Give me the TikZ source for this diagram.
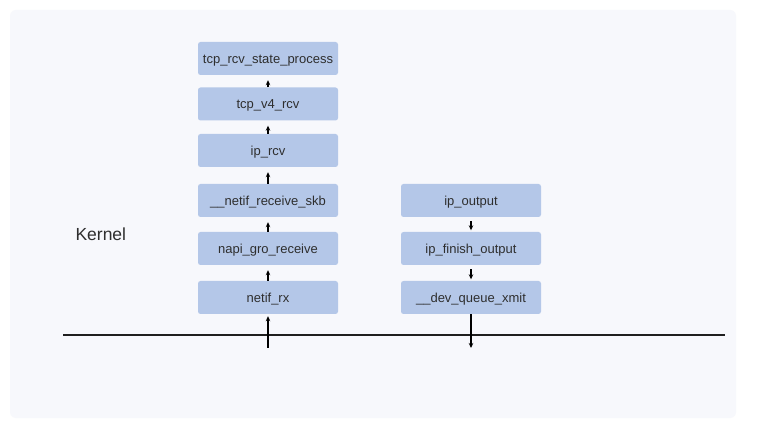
\documentclass[tikz,border=0pt]{standalone}
\usepackage{fontspec}
\setmainfont{Liberation Sans}
\usetikzlibrary{arrows.meta}
\definecolor{panel}{HTML}{F7F8FC}
\definecolor{boxfill}{HTML}{B4C7E8}
\definecolor{txt}{HTML}{2E2E2E}
\begin{document}
\begin{tikzpicture}[x=1pt,y=-1pt,
  fn/.style={fill=boxfill, draw=none, rounded corners=2.5pt, minimum width=140pt,
    minimum height=33pt, inner sep=0pt, text height=9.6pt, text depth=0pt,
    text=txt, font=\fontsize{13}{15}\selectfont},
  flow/.style={-{Stealth[length=5pt,width=4.5pt]}, line width=1.1pt, black},
  wire/.style={line width=1.6pt, draw=black!88}]
  % canvas and panel
  \fill[white] (0,0) rectangle (758,430);
  \fill[panel, rounded corners=6pt] (10,10) rectangle (736,418);
  \useasboundingbox (0,0) rectangle (758,430);

  % receive path
  \node[fn] (s1) at (268,58.5) {tcp\_rcv\_state\_process};
  \node[fn] (s2) at (268,104) {tcp\_v4\_rcv};
  \node[fn] (s3) at (268,150.5) {ip\_rcv};
  \node[fn] (s4) at (268,200.5) {\_\_netif\_receive\_skb};
  \node[fn] (s5) at (268,248.5) {napi\_gro\_receive};
  \node[fn] (s6) at (268,297.5) {netif\_rx};

  % transmit path
  \node[fn] (t1) at (471,200.5) {ip\_output};
  \node[fn] (t2) at (471,248.5) {ip\_finish\_output};
  \node[fn] (t3) at (471,297.5) {\_\_dev\_queue\_xmit};

  \node[text=txt, font=\fontsize{17.5}{20}\selectfont, anchor=west] (kern) at (72,234) {Kernel};

  % device boundary
  \coordinate (wl) at (63,335);
  \coordinate (wr) at (725,335);
  \draw[wire] (wl) -- (wr);
  \coordinate (rxin) at (268,348);
  \coordinate (txout) at (471,348);

  \draw[flow, shorten >=5pt] (s2.north) -- (s1.south);
  \draw[flow, shorten >=5pt] (s3.north) -- (s2.south);
  \draw[flow, shorten >=5pt] (s4.north) -- (s3.south);
  \draw[flow, shorten >=5pt] (s5.north) -- (s4.south);
  \draw[flow, shorten >=5pt] (s6.north) -- (s5.south);
  \draw[flow, shorten >=2pt] (rxin) -- (s6.south);

  \draw[flow, shorten <=4pt, shorten >=1.5pt] (t1.south) -- (t2.north);
  \draw[flow, shorten <=4pt, shorten >=1.5pt] (t2.south) -- (t3.north);
  \draw[flow] (t3.south) -- (txout);
\end{tikzpicture}
\end{document}
